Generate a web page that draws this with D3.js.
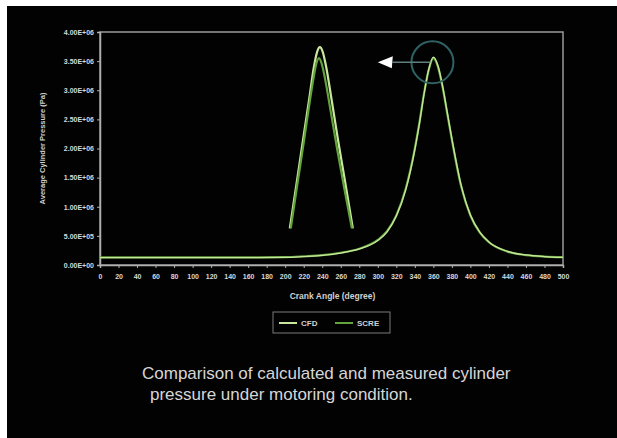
<!DOCTYPE html>
<html lang="en">
<head>
    <meta charset="UTF-8">
    <script src="https://cdn.jsdelivr.net/npm/d3@7"></script>
    <title>Cylinder pressure</title>
    <style>
        body { margin: 0; background: white; }
        svg { display: block; }
        text { font-family: "Liberation Sans", Arial, sans-serif; }
    </style>
</head>
<body>
    <script>
        /*------------------- data --------------------*/
        // crank angle (degree) for the full-cycle curves
        const angles = [0, 40, 80, 120, 160, 200, 220, 240, 260, 280, 300, 310, 320, 330, 340, 345, 350, 355, 360,
            365, 370, 375, 380, 390, 400, 410, 420, 440, 460, 480, 500];
        // average cylinder pressure (Pa)
        const scre = [1.3e5, 1.3e5, 1.3e5, 1.3e5, 1.3e5, 1.35e5, 1.5e5, 1.7e5, 2.1e5, 2.8e5, 4.3e5, 5.8e5, 8.5e5, 1.3e6,
            2.0e6, 2.45e6, 2.95e6, 3.35e6, 3.55e6, 3.4e6, 3.05e6, 2.6e6, 2.15e6, 1.35e6, 8.5e5, 5.6e5, 3.9e5, 2.3e5,
            1.7e5, 1.45e5, 1.35e5];
        const cfd = [1.25e5, 1.25e5, 1.25e5, 1.25e5, 1.25e5, 1.3e5, 1.45e5, 1.65e5, 2.05e5, 2.75e5, 4.2e5, 5.7e5, 8.4e5, 1.28e6,
            1.98e6, 2.43e6, 2.94e6, 3.36e6, 3.57e6, 3.42e6, 3.07e6, 2.62e6, 2.17e6, 1.37e6, 8.6e5, 5.7e5, 3.95e5, 2.35e5,
            1.72e5, 1.45e5, 1.3e5];

        // magnified peak (drawn over the compression part of the chart)
        const cfdZoomAngles = [205, 212, 219, 226, 231, 234.5, 237.5, 240.5, 244, 250, 257, 265, 273];
        const cfdZoom = [6.3e5, 1.37e6, 2.12e6, 2.86e6, 3.4e6, 3.66e6, 3.74e6, 3.66e6, 3.42e6, 2.85e6, 2.15e6, 1.4e6, 6.3e5];
        const screZoomAngles = [206, 213, 220, 226, 230.5, 233.5, 236.5, 239.5, 243, 249, 256, 264, 272];
        const screZoom = [6.3e5, 1.37e6, 2.1e6, 2.75e6, 3.2e6, 3.45e6, 3.55e6, 3.45e6, 3.2e6, 2.65e6, 2.0e6, 1.3e6, 6.3e5];

        const xTicks = d3.range(0, 501, 20);
        const yTicks = d3.range(0, 4000001, 500000);
        const seriesNames = ["CFD", "SCRE"];
        const caption = ["Comparison of calculated and measured cylinder", "pressure under motoring condition."];

        const colors = { CFD: "#c9e79c", SCRE: "#62a33c" };

        /*------------------- layout --------------------*/
        const W = 617, H = 438;
        const plot = { left: 100, right: 563, top: 32, bottom: 265 };

        const svg = d3.select("body").append("svg")
            .attr("width", W)
            .attr("height", H);

        svg.append("rect").attr("width", W).attr("height", H).attr("fill", "white");
        svg.append("rect").attr("x", 7).attr("y", 6).attr("width", W - 7).attr("height", H - 6).attr("fill", "#020202");

        const x = d3.scaleLinear().domain([0, 500]).range([plot.left, plot.right]);
        const y = d3.scaleLinear().domain([0, 4000000]).range([plot.bottom, plot.top]);

        // 4.00E+06 style labels
        const sci = d => {
            if (d === 0) return "0.00E+00";
            const e = Math.floor(Math.log10(d));
            const m = d / Math.pow(10, e);
            return m.toFixed(2) + "E+" + String(e).padStart(2, "0");
        };

        // plot frame (top and right edges)
        svg.append("rect")
            .attr("x", plot.left).attr("y", plot.top)
            .attr("width", plot.right - plot.left).attr("height", plot.bottom - plot.top)
            .attr("fill", "none").attr("stroke", "#9a9a9a").attr("stroke-width", 1.5);

        const yAxis = svg.append("g")
            .attr("transform", `translate(${plot.left},0)`)
            .call(d3.axisLeft(y).tickValues(yTicks).tickFormat(sci).tickSize(3));
        const xAxis = svg.append("g")
            .attr("transform", `translate(0,${plot.bottom})`)
            .call(d3.axisBottom(x).tickValues(xTicks).tickSize(3));

        [xAxis, yAxis].forEach(g => {
            g.select(".domain").attr("stroke", "#b0b0b0").attr("stroke-width", 1.5);
            g.selectAll(".tick line").attr("stroke", "#b0b0b0");
            g.selectAll(".tick text")
                .attr("fill", "#d8d8d8")
                .attr("font-size", 7)
                .attr("font-weight", "bold")
                .style("font-family", "'Liberation Sans', Arial, sans-serif");
        });
        yAxis.selectAll(".tick text").attr("x", -6);
        xAxis.selectAll(".tick text").attr("y", 9);

        // axis titles
        svg.append("text")
            .attr("transform", `translate(45,${(plot.top + plot.bottom) / 2}) rotate(-90)`)
            .attr("text-anchor", "middle")
            .attr("fill", "#d0d0d0")
            .attr("font-size", 7.5)
            .attr("font-weight", "bold")
            .text("Average Cylinder Pressure (Pa)");
        svg.append("text")
            .attr("x", (plot.left + plot.right) / 2 + 1)
            .attr("y", 299)
            .attr("text-anchor", "middle")
            .attr("fill", "#d0d0d0")
            .attr("font-size", 8.5)
            .attr("font-weight", "bold")
            .text("Crank Angle (degree)");

        /*------------------- lines --------------------*/
        const line = d3.line()
            .x(d => x(d[0]))
            .y(d => y(d[1]))
            .curve(d3.curveMonotoneX);

        const series = [
            { name: "SCRE", pts: d3.zip(angles, scre), w: 2.2 },
            { name: "CFD", pts: d3.zip(angles, cfd), w: 1.3 },
            { name: "CFD", pts: d3.zip(cfdZoomAngles, cfdZoom), w: 2.2 },
            { name: "SCRE", pts: d3.zip(screZoomAngles, screZoom), w: 2.2 }
        ];

        series.forEach(s => {
            svg.append("path")
                .attr("d", line(s.pts))
                .attr("fill", "none")
                .attr("stroke", colors[s.name])
                .attr("stroke-width", s.w)
                .attr("stroke-linejoin", "round");
        });

        /*------------------- annotation --------------------*/
        const cx = x(359), cy = y(3.48e6);
        svg.append("circle")
            .attr("cx", cx).attr("cy", cy).attr("r", 21)
            .attr("fill", "none").attr("stroke", "#2f6264").attr("stroke-width", 2);
        svg.append("line")
            .attr("x1", x(316)).attr("x2", cx - 2)
            .attr("y1", cy).attr("y2", cy)
            .attr("stroke", "#5f7f80").attr("stroke-width", 1.5);
        const tip = x(300);
        svg.append("path")
            .attr("d", `M${tip},${cy} L${tip + 15},${cy - 6} L${tip + 14},${cy + 6} Z`)
            .attr("fill", "white");

        /*------------------- legend --------------------*/
        const lg = svg.append("g").attr("transform", "translate(273,312)");
        lg.append("rect").attr("width", 117).attr("height", 21)
            .attr("fill", "none").attr("stroke", "#7a7a7a").attr("stroke-width", 1);
        seriesNames.forEach((n, i) => {
            const gx = 6 + i * 56;
            lg.append("line").attr("x1", gx).attr("x2", gx + 18).attr("y1", 11).attr("y2", 11)
                .attr("stroke", colors[n]).attr("stroke-width", 2);
            lg.append("text").attr("x", gx + 22).attr("y", 14)
                .attr("fill", "#d0d0d0").attr("font-size", 8).attr("font-weight", "bold").text(n);
        });

        /*------------------- caption --------------------*/
        svg.selectAll(".caption")
            .data(caption)
            .enter()
            .append("text")
            .attr("class", "caption")
            .attr("x", (d, i) => i === 0 ? 142 : 150)
            .attr("y", (d, i) => 379 + i * 21)
            .attr("fill", "#d6d6d6")
            .attr("font-size", 17)
            .text(d => d);
    </script>
</body>
</html>
